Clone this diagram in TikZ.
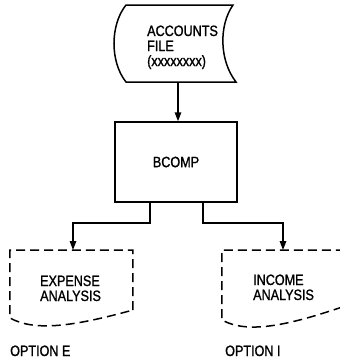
\documentclass[tikz,border=0pt]{standalone}
\usepackage{fontspec}
\setmainfont{Liberation Sans}[FakeStretch=0.84, FakeBold=1.2]
\usetikzlibrary{arrows.meta}

\tikzset{
  solidline/.style={line width=1.5pt},
  flow/.style={solidline, -{Triangle[length=9pt,width=6.5pt]}},
  dashline/.style={line width=1.5pt, dash pattern=on 9pt off 5pt},
  lbl/.style={font=\fontsize{15}{15}\selectfont, inner sep=0pt, align=left}
}

\begin{document}
\begin{tikzpicture}[x=1pt,y=-1pt]
  \useasboundingbox (0,0) rectangle (340,360);
  \clip (0,0) rectangle (340,360);

  % stored-data file at the top
  \draw[solidline] (126,5) -- (233,5)
    .. controls (219,25) and (219,60) .. (236,82) -- (126,82)
    .. controls (110,62) and (110,25) .. (126,5) -- cycle;
  \node[lbl, anchor=base west] (accounts) at (147,66)
    {ACCOUNTS\\FILE\\(xxxxxxxx)};
  \coordinate (acc-out) at (178,82);

  % processing step
  \node[draw, solidline, lbl, minimum width=122pt, minimum height=80pt]
    (bcomp) at (176,162) {BCOMP};

  % output documents (dashed: optional)
  \draw[dashline] (133,310) -- (133,250) -- (10,250) -- (10,318)
    .. controls (35,332) and (75,326) .. (133,310);
  \node[lbl, anchor=base west] (expense) at (40,301) {EXPENSE\\ANALYSIS};
  \coordinate (exp-in) at (73,250);

  \draw[dashline] (345,306) -- (345,250) -- (222,250) -- (222,320)
    .. controls (247,334) and (287,326) .. (345,306);
  \node[lbl, anchor=base west] (income) at (253,300) {INCOME\\ANALYSIS};
  \coordinate (inc-in) at (283,250);

  \node[lbl, anchor=base west] (opt-e) at (10,356) {OPTION E};
  \node[lbl, anchor=base west] (opt-i) at (225,356) {OPTION I};

  % connectors
  \draw[flow] (acc-out) -- (acc-out |- bcomp.north);
  \draw[flow] ([xshift=-26pt]bcomp.south) -- ++(0,20) -| (exp-in);
  \draw[flow] ([xshift=27pt]bcomp.south) -- ++(0,20) -| (inc-in);
\end{tikzpicture}
\end{document}
